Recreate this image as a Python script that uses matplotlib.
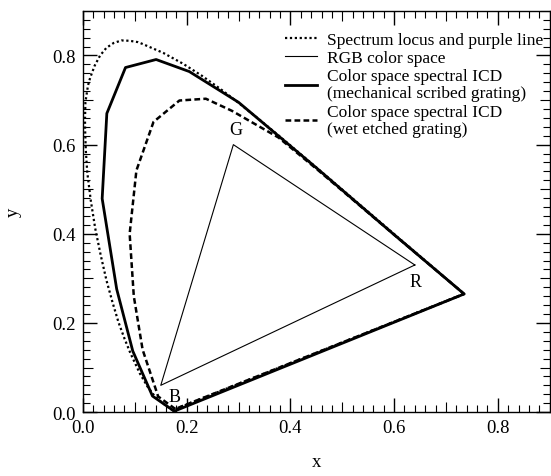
import numpy as np
import matplotlib.pyplot as plt
from matplotlib.ticker import MultipleLocator

plt.rcParams['font.family'] = ['Liberation Serif', 'DejaVu Serif']

# Spectrum locus (CIE 1931), closed by the purple line
locus_x = [0.1741, 0.1733, 0.1714, 0.1689, 0.1644, 0.1611, 0.1566, 0.1510, 0.1440,
           0.1355, 0.1241, 0.1096, 0.0913, 0.0800, 0.0687, 0.0570, 0.0454, 0.0340,
           0.0235, 0.0150, 0.0082, 0.0054, 0.0041, 0.0039, 0.0047, 0.0097, 0.0139,
           0.0225, 0.0330, 0.0450, 0.0590, 0.0743, 0.0900, 0.1060, 0.1142, 0.1547,
           0.1929, 0.2296, 0.2658, 0.3016, 0.3373, 0.3731, 0.4087, 0.4441, 0.4788,
           0.5125, 0.5448, 0.5752, 0.6029, 0.6270, 0.6482, 0.6658, 0.6801, 0.6915,
           0.7006, 0.7079, 0.7140, 0.7190, 0.7230, 0.7260, 0.7347, 0.1741]
locus_y = [0.0050, 0.0048, 0.0051, 0.0069, 0.0109, 0.0138, 0.0177, 0.0227, 0.0297,
           0.0399, 0.0578, 0.0868, 0.1327, 0.1650, 0.2007, 0.2460, 0.2950, 0.3530,
           0.4127, 0.4750, 0.5384, 0.5880, 0.6348, 0.6548, 0.6955, 0.7330, 0.7502,
           0.7770, 0.8000, 0.8170, 0.8280, 0.8338, 0.8330, 0.8300, 0.8262, 0.8059,
           0.7816, 0.7543, 0.7243, 0.6923, 0.6589, 0.6245, 0.5896, 0.5547, 0.5202,
           0.4866, 0.4544, 0.4242, 0.3965, 0.3725, 0.3514, 0.3340, 0.3197, 0.3083,
           0.2993, 0.2920, 0.2859, 0.2809, 0.2770, 0.2740, 0.2653, 0.0050]

# RGB color space triangle
rgb_x = [0.64, 0.29, 0.15, 0.64]
rgb_y = [0.33, 0.60, 0.06, 0.33]

# Spectral ICD, mechanical scribed grating
mech_x = [0.176, 0.134, 0.096, 0.065, 0.037, 0.046, 0.082, 0.141, 0.205, 0.30,
          0.45, 0.60, 0.735, 0.176]
mech_y = [0.002, 0.036, 0.137, 0.276, 0.479, 0.670, 0.773, 0.791, 0.764, 0.695,
          0.548, 0.398, 0.265, 0.002]

# Spectral ICD, wet etched grating
wet_x = [0.178, 0.145, 0.115, 0.098, 0.090, 0.103, 0.136, 0.186, 0.237, 0.287,
         0.377, 0.45, 0.60, 0.735, 0.178]
wet_y = [0.007, 0.035, 0.140, 0.260, 0.400, 0.542, 0.651, 0.699, 0.703, 0.676,
         0.616, 0.546, 0.398, 0.265, 0.007]

fig = plt.figure(figsize=(5.51, 4.77), dpi=100)
ax = fig.add_axes([0.1506, 0.134, 0.847, 0.841])

ax.plot(locus_x, locus_y, color='black', lw=1.6, linestyle=(0, (1, 1.2)),
        label='Spectrum locus and purple line')
ax.plot(rgb_x, rgb_y, color='black', lw=0.8, label='RGB color space')
ax.plot(mech_x, mech_y, color='black', lw=2.0,
        label='Color space spectral ICD\n(mechanical scribed grating)')
ax.plot(wet_x, wet_y, color='black', lw=1.8, linestyle=(0, (2.3, 1.3)),
        label='Color space spectral ICD\n(wet etched grating)')

ax.text(0.295, 0.615, 'G', fontsize=13, ha='center', va='bottom')
ax.text(0.641, 0.294, 'R', fontsize=13, ha='center', va='center')
ax.text(0.176, 0.034, 'B', fontsize=13, ha='center', va='center')

ax.set_xlim(0, 0.9)
ax.set_ylim(0, 0.9)
ax.xaxis.set_major_locator(MultipleLocator(0.2))
ax.yaxis.set_major_locator(MultipleLocator(0.2))
ax.xaxis.set_minor_locator(MultipleLocator(0.02))
ax.yaxis.set_minor_locator(MultipleLocator(0.02))
ax.xaxis.set_major_formatter(plt.FuncFormatter(lambda v, p: f'{v:.1f}'))
ax.yaxis.set_major_formatter(plt.FuncFormatter(lambda v, p: f'{v:.1f}'))
ax.tick_params(which='both', direction='in', top=True, right=True, labelsize=13.5)
ax.tick_params(which='major', length=10, width=1, pad=5)
ax.tick_params(which='minor', length=5, width=0.8)
for s in ax.spines.values():
    s.set_linewidth(1.0)

# slightly longer ticks at the odd tenths
for axis in (ax.xaxis, ax.yaxis):
    for tick, loc in zip(axis.get_minor_ticks(), axis.get_minorticklocs()):
        if abs(loc * 10 - round(loc * 10)) < 1e-6:
            tick.tick1line.set_markersize(7.5)
            tick.tick2line.set_markersize(7.5)

ax.set_xlabel('x', fontsize=13.5, labelpad=12)
ax.set_ylabel('y', fontsize=13.5, labelpad=22, rotation=90)

leg = ax.legend(loc='upper right', frameon=False, fontsize=12.5, handlelength=1.85,
                handletextpad=0.55, labelspacing=0.12, borderaxespad=0.2,
                bbox_to_anchor=(1.008, 0.974))
for t in leg.get_texts():
    t.set_linespacing(1.1)

fig.savefig('out.png', dpi=100)
